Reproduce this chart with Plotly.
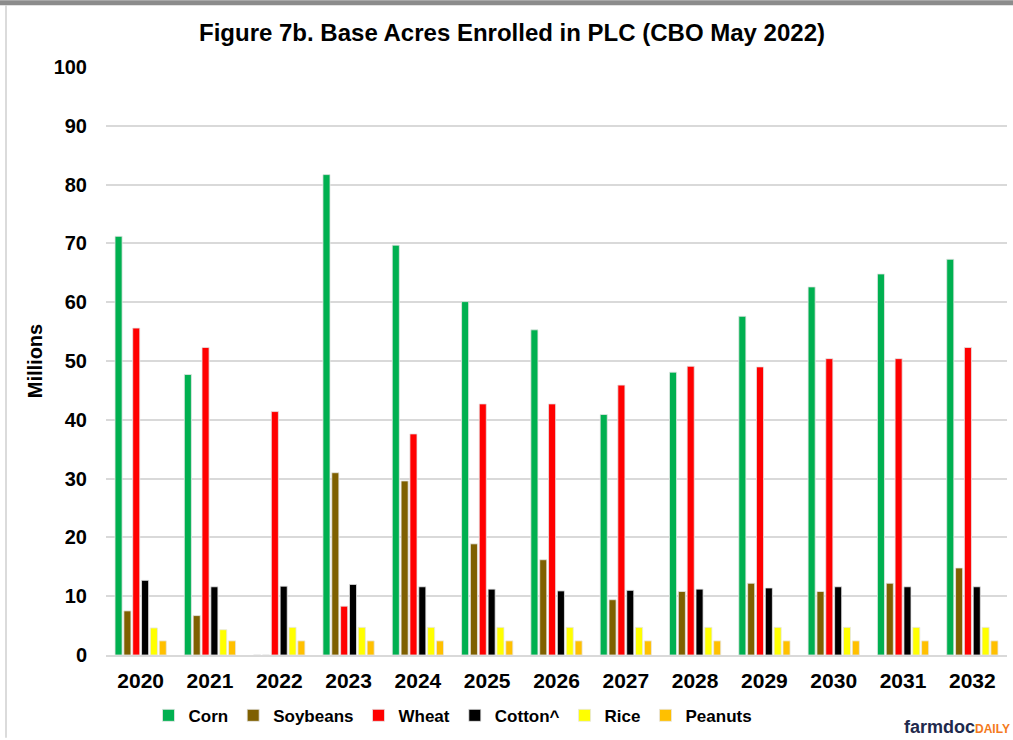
import plotly.graph_objects as go

years = ["2020", "2021", "2022", "2023", "2024", "2025", "2026",
         "2027", "2028", "2029", "2030", "2031", "2032"]

corn = [71.2, 47.7, 0, 81.7, 69.7, 60.1, 55.3, 40.9, 48.1, 57.6, 62.6, 64.8, 67.3]
soybeans = [7.5, 6.7, 0, 31.0, 29.6, 18.9, 16.2, 9.4, 10.8, 12.2, 10.8, 12.2, 14.8]
wheat = [55.6, 52.3, 41.4, 8.3, 37.6, 42.7, 42.7, 45.9, 49.1, 49.0, 50.4, 50.4, 52.3]
cotton = [12.7, 11.6, 11.7, 12.0, 11.6, 11.2, 10.9, 11.0, 11.2, 11.4, 11.6, 11.6, 11.6]
rice = [4.6, 4.3, 4.7, 4.7, 4.7, 4.7, 4.7, 4.7, 4.7, 4.7, 4.7, 4.7, 4.7]
peanuts = [2.4, 2.4, 2.4, 2.4, 2.4, 2.4, 2.4, 2.4, 2.4, 2.4, 2.4, 2.4, 2.4]

series = [
    ("Corn", corn, "#00B050"),
    ("Soybeans", soybeans, "#7F6000"),
    ("Wheat", wheat, "#FF0000"),
    ("Cotton^", cotton, "#000000"),
    ("Rice", rice, "#FFFF00"),
    ("Peanuts", peanuts, "#FFC000"),
]

W, H = 1013, 740
ml, mr, mt, mb = 106, 6, 67, 83
pw, ph = W - ml - mr, H - mt - mb

def px(x):
    return (x - ml) / pw

def py(y):
    return (H - mb - y) / ph

fig = go.Figure()
for name, vals, col in series:
    fig.add_trace(
        go.Bar(
            x=years,
            y=vals,
            name="<b>" + name + "</b>",
            marker=dict(color=col, line=dict(color="#e6e6e6", width=0.8)),
        )
    )

# gray band along the top and thin border on the left
fig.add_shape(type="rect", xref="paper", yref="paper",
              x0=px(0), x1=px(W), y0=py(5), y1=py(0),
              fillcolor="#8c8c8c", line_width=0, layer="above")
fig.add_shape(type="line", xref="paper", yref="paper",
              x0=px(6), x1=px(6), y0=py(H), y1=py(5),
              line=dict(color="#cfcfcf", width=1.5))

fig.add_annotation(
    xref="paper", yref="paper", x=px(1012), y=py(729),
    xanchor="right", yanchor="middle", showarrow=False,
    text="<b><span style='color:#1f2a4d'>farmdoc</span>"
         "<span style='color:#f47a20;font-size:12px'>DAILY</span></b>",
    font=dict(family="Arial, Liberation Sans, sans-serif", size=18),
)

fig.update_layout(
    width=W,
    height=H,
    margin={"l": ml, "r": mr, "t": mt, "b": mb},
    barmode="group",
    bargap=0.235,
    bargroupgap=0.2,
    paper_bgcolor="white",
    plot_bgcolor="white",
    font=dict(family="Arial, Liberation Sans, sans-serif", size=17, color="#000000"),
    title=dict(
        text="<b>Figure 7b. Base Acres Enrolled in PLC (CBO May 2022)</b>",
        x=px(512), xanchor="center", y=1 - 33 / H, yanchor="middle",
        xref="paper",
        font=dict(size=24),
    ),
    yaxis=dict(
        range=[0, 100],
        dtick=10,
        showgrid=True,
        gridcolor="#d9d9d9",
        gridwidth=1.5,
        zeroline=False,
        tickfont=dict(size=20),
        ticklabelstandoff=18,
        tickprefix="<b>",
        ticksuffix="</b>",
        title=dict(text="<b>Millions</b>", font=dict(size=20), standoff=5),
    ),
    xaxis=dict(
        showline=True,
        linecolor="#d9d9d9",
        linewidth=1.5,
        tickfont=dict(size=21),
        ticklabelstandoff=6,
        tickprefix="<b>",
        ticksuffix="</b>",
    ),
    legend=dict(
        orientation="h",
        x=px(453), xanchor="center",
        y=py(718), yanchor="middle",
        font=dict(size=17),
        itemwidth=30,
        traceorder="normal",
    ),
)

fig.write_html(
    "out.html",
    config={"displayModeBar": False},
    post_script="document.body.style.margin='0px';document.body.style.overflow='hidden';",
)
